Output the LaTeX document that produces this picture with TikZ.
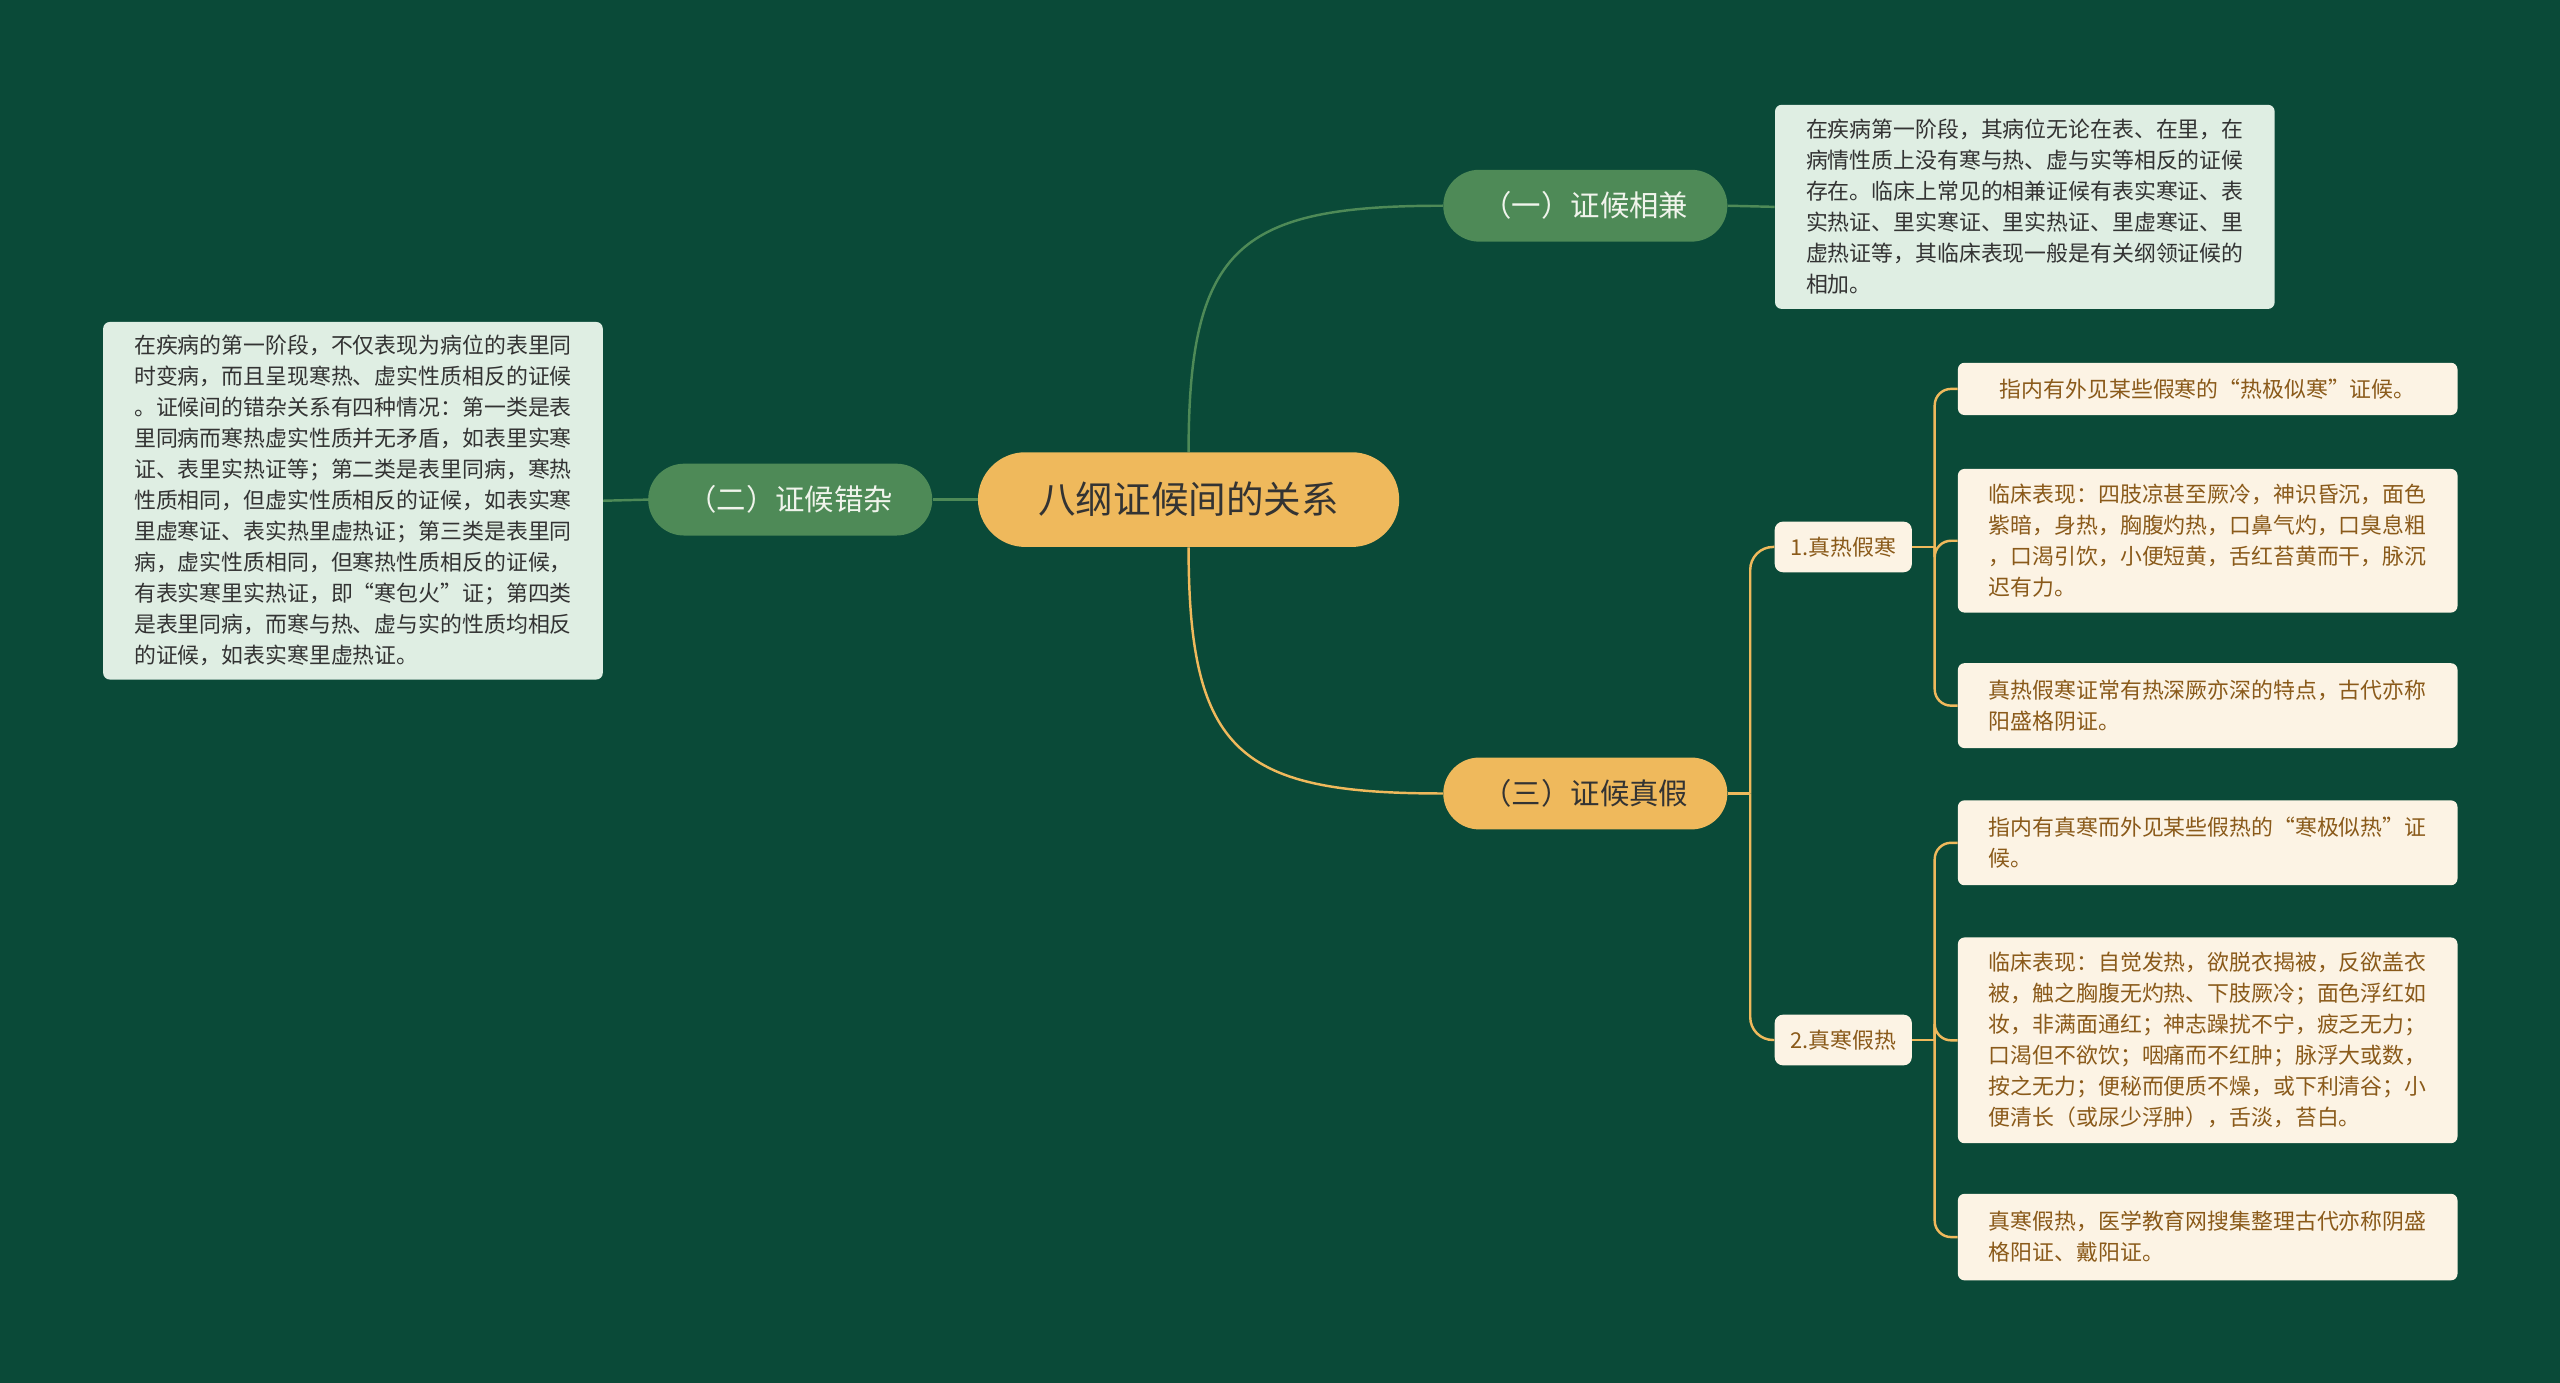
\documentclass[tikz,border=0pt]{standalone}
\usepackage{fontspec}
\setmainfont{Noto Sans CJK SC}
\begin{document}
\begin{tikzpicture}[x=1pt,y=-1pt,
  bigg/.style={rounded corners=22,fill=mygreen,text=mylight,font=\fontsize{18}{20}\selectfont,minimum width=174,minimum height=44,inner sep=0},
  bigo/.style={bigg,fill=myorange,text=mydark},
  gbox/.style={anchor=north west,rounded corners=4,fill=mylightg,text=mydark,font=\fontsize{13.4}{19}\selectfont,align=left,inner xsep=6,inner ysep=5},
  leaf/.style={anchor=north west,rounded corners=4,fill=mycream,text=mybrown,font=\fontsize{13.4}{19}\selectfont,align=left,inner xsep=7,inner ysep=5,minimum width=306},
  mid/.style={rounded corners=5,fill=mycream,text=mybrown,font=\fontsize{13.4}{15}\selectfont,minimum width=84,minimum height=31,inner sep=0},
  gl/.style={draw=mygreen,line width=1.5},
  ol/.style={draw=myorange,line width=1.5}]
\definecolor{bg}{HTML}{0A4A38}
\definecolor{mygreen}{HTML}{4E8A57}
\definecolor{myorange}{HTML}{EFB95C}
\definecolor{mylight}{HTML}{F0F4EC}
\definecolor{mydark}{HTML}{333333}
\definecolor{mylightg}{HTML}{DFEEE3}
\definecolor{mycream}{HTML}{FCF3E4}
\definecolor{mybrown}{HTML}{8A5A1A}
\fill[bg] (0,0) rectangle (1568,847);
\useasboundingbox (0,0) rectangle (1568,847);

\node[bigo,minimum width=258,minimum height=58,rounded corners=29,font=\fontsize{23}{25}\selectfont] (root) at (728,306) {八纲证候间的关系};
\node[bigg] (s1) at (971,126) {（一）证候相兼};
\node[bigg] (s2) at (484,306) {（二）证候错杂};
\node[bigo] (s3) at (971,486) {（三）证候真假};

\node[gbox,minimum width=306,minimum height=125] (b1) at (1087,64) {在疾病第一阶段，其病位无论在表、在里，在\\病情性质上没有寒与热、虚与实等相反的证候\\存在。临床上常见的相兼证候有表实寒证、表\\实热证、里实寒证、里实热证、里虚寒证、里\\虚热证等，其临床表现一般是有关纲领证候的\\相加。};
\node[gbox,minimum width=306,minimum height=219] (b2) at (63,197) {在疾病的第一阶段，不仅表现为病位的表里同\\时变病，而且呈现寒热、虚实性质相反的证候\\。证候间的错杂关系有四种情况：第一类是表\\里同病而寒热虚实性质并无矛盾，如表里实寒\\证、表里实热证等；第二类是表里同病，寒热\\性质相同，但虚实性质相反的证候，如表实寒\\里虚寒证、表实热里虚热证；第三类是表里同\\病，虚实性质相同，但寒热性质相反的证候，\\有表实寒里实热证，即“寒包火”证；第四类\\是表里同病，而寒与热、虚与实的性质均相反\\的证候，如表实寒里虚热证。};

\node[mid] (n1) at (1129,335) {1.真热假寒};
\node[mid] (n2) at (1129,637) {2.真寒假热};

\node[leaf,minimum height=32] (la) at (1199,222) {指内有外见某些假寒的“热极似寒”证候。};
\node[leaf,minimum height=88] (lb) at (1199,287) {临床表现：四肢凉甚至厥冷，神识昏沉，面色\\紫暗，身热，胸腹灼热，口鼻气灼，口臭息粗\\，口渴引饮，小便短黄，舌红苔黄而干，脉沉\\迟有力。};
\node[leaf,minimum height=52] (lc) at (1199,406) {真热假寒证常有热深厥亦深的特点，古代亦称\\阳盛格阴证。};
\node[leaf,minimum height=52] (ld) at (1199,490) {指内有真寒而外见某些假热的“寒极似热”证\\候。};
\node[leaf,minimum height=126] (le) at (1199,574) {临床表现：自觉发热，欲脱衣揭被，反欲盖衣\\被，触之胸腹无灼热、下肢厥冷；面色浮红如\\妆，非满面通红；神志躁扰不宁，疲乏无力；\\口渴但不欲饮；咽痛而不红肿；脉浮大或数，\\按之无力；便秘而便质不燥，或下利清谷；小\\便清长（或尿少浮肿），舌淡，苔白。};
\node[leaf,minimum height=53] (lf) at (1199,731) {真寒假热，医学教育网搜集整理古代亦称阴盛\\格阳证、戴阳证。};

\draw[gl] (root.north) .. controls (728,150) and (760,126) .. (s1.west);
\draw[gl] (s1.east) -- (b1.west);
\draw[gl] (root.west) -- (s2.east);
\draw[gl] (s2.west) -- (b2.east);
\draw[ol] (root.south) .. controls (728,462) and (760,486) .. (s3.west);

\coordinate (j3) at (1072,486);
\coordinate (j1) at (1185,335);
\coordinate (j2) at (1185,637);
\draw[ol] (s3.east) -- (j3);
\draw[ol,rounded corners=14] (j3) |- (n1.west);
\draw[ol,rounded corners=14] (j3) |- (n2.west);
\draw[ol] (n1.east) -- (j1);
\draw[ol] (n2.east) -- (j2);
\foreach \l in {la,lb,lc} \draw[ol,rounded corners=10] (j1) |- (\l.west);
\foreach \l in {ld,le,lf} \draw[ol,rounded corners=10] (j2) |- (\l.west);
\end{tikzpicture}
\end{document}
